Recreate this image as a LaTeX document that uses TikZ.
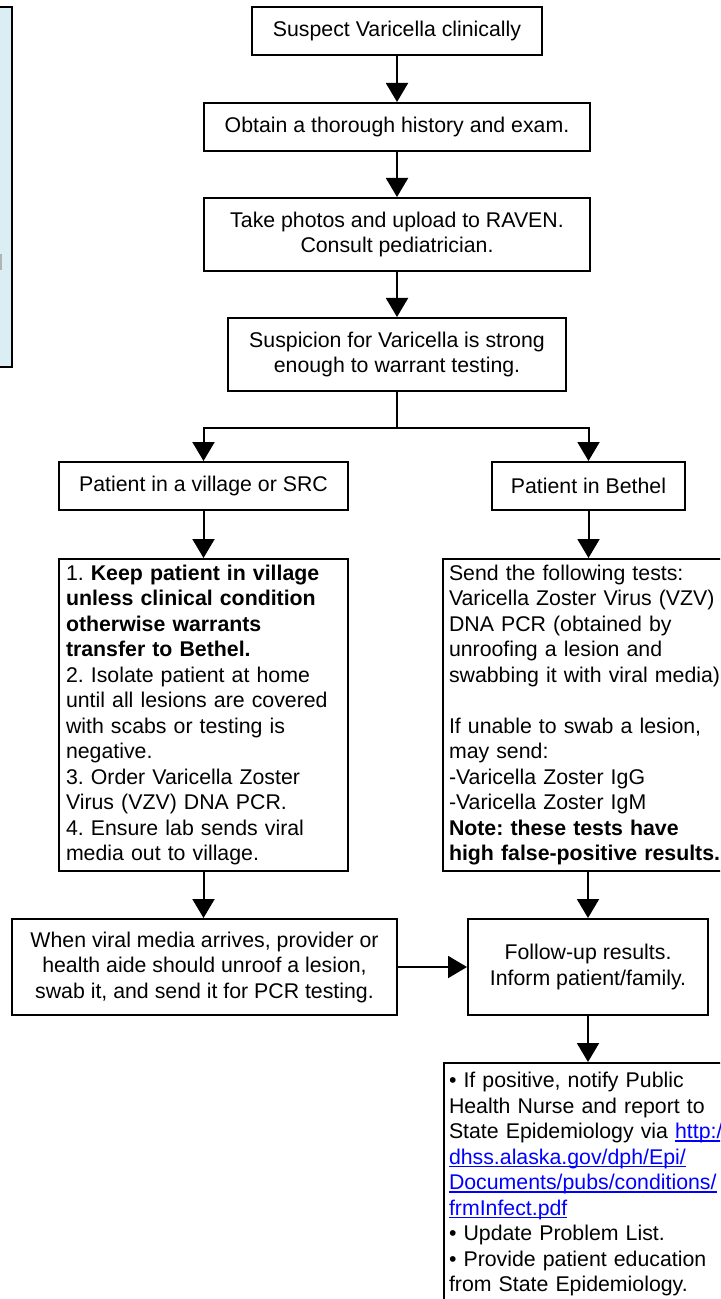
\documentclass[tikz,border=0pt]{standalone}
\usepackage{fontspec}
\setmainfont{Liberation Sans}
\usetikzlibrary{arrows.meta}
\definecolor{lightblue}{RGB}{218,238,243}
\definecolor{linkblue}{RGB}{0,0,255}
\newcommand{\myul}[1]{\leavevmode{\color{linkblue}\setbox0=\hbox{#1}\rlap{\rule[-1.5pt]{\wd0}{0.7pt}}\box0}}
\frenchspacing
\begin{document}
\begin{tikzpicture}[x=0.5pt,y=-0.5pt,
  every node/.style={font=\fontsize{10.65pt}{12.75pt}\selectfont\frenchspacing},
  box/.style={draw, line width=1pt, fill=white, inner sep=0pt, align=center},
  lbox/.style={draw, line width=1pt, fill=white, inner ysep=0pt, align=left},
  arr/.style={line width=1pt, -{Triangle[width=11pt,length=9.5pt]}},
  ln/.style={line width=1pt}]
\useasboundingbox (0,0) rectangle (720,1299);
\fill[white] (0,0) rectangle (720,1299);
\clip (0,0) rectangle (720,1299);
% partial side panel
\draw[line width=1pt, fill=lightblue] (-10,7) rectangle (12,367);
\fill[gray!60] (0,254) rectangle (2,270);
% boxes
\node[box, minimum width=145pt, minimum height=24pt] (A) at (397,31) {Suspect Varicella clinically};
\node[box, minimum width=193pt, minimum height=24pt] (B) at (397,127) {Obtain a thorough history and exam.};
\node[box, minimum width=193pt, minimum height=36.5pt] (C) at (397,234.5) {Take photos and upload to RAVEN.\\Consult pediatrician.};
\node[box, minimum width=169pt, minimum height=36.5pt] (D) at (397,354.5) {Suspicion for Varicella is strong\\enough to warrant testing.};
\node[box, minimum width=144.5pt, minimum height=24pt] (E) at (203.5,486) {Patient in a village or SRC};
\node[box, minimum width=96.5pt, minimum height=24pt] (F) at (588.5,486) {Patient in Bethel};
\node[lbox, inner xsep=3.5pt, text width=137.5pt, minimum height=156pt] (G) at (203.5,715) {1. \textbf{Keep patient in village}\\
\textbf{unless clinical condition}\\
\textbf{otherwise warrants}\\
\textbf{transfer to Bethel.}\\
2. Isolate patient at home\\
until all lesions are covered\\
with scabs or testing is\\
negative.\\
3. Order Varicella Zoster\\
Virus (VZV) DNA PCR.\\
4. Ensure lab sends viral\\
media out to village.};
\node[lbox, inner xsep=3pt, text width=144pt, minimum height=156pt] (H) at (593,715) {Send the following tests:\\
Varicella Zoster Virus (VZV)\\
DNA PCR (obtained by\\
unroofing a lesion and\\
swabbing it with viral media)\\[12.75pt]
If unable to swab a lesion,\\
may send:\\
-Varicella Zoster IgG\\
-Varicella Zoster IgM\\
\textbf{Note: these tests have}\\
\textbf{high false-positive results.}};
\node[box, minimum width=192.5pt, minimum height=48pt] (I) at (204.5,967) {When viral media arrives, provider or\\health aide should unroof a lesion,\\swab it, and send it for PCR testing.};
\node[box, minimum width=120pt, minimum height=48pt] (J) at (588,967) {Follow-up results.\\Inform patient/family.};
\node[lbox, inner xsep=2.5pt, text width=145pt, minimum height=121pt] (K) at (594,1184) {• If positive, notify Public\\
Health Nurse and report to\\
State Epidemiology via \myul{http:/}\\
\myul{dhss.alaska.gov/dph/Epi/}\\
\myul{Documents/pubs/conditions/}\\
\myul{frmInfect.pdf}\\
• Update Problem List.\\
• Provide patient education\\
from State Epidemiology.};
% connectors
\draw[arr] (A) -- (B);
\draw[arr] (B) -- (C);
\draw[arr] (C) -- (D);
\coordinate (split) at (397,428);
\draw[ln] (D.south) -- (split);
\draw[arr] (split) -| (E.north);
\draw[arr] (split) -| (F.north);
\draw[arr] (E) -- (G);
\draw[arr] (F.south) -- (F.south |- H.north);
\draw[arr] (G.south) -- (G.south |- I.north);
\draw[arr] (J.north |- H.south) -- (J.north);
\draw[arr] (I) -- (J);
\draw[arr] (J.south) -- (J.south |- K.north);
\end{tikzpicture}
\end{document}
